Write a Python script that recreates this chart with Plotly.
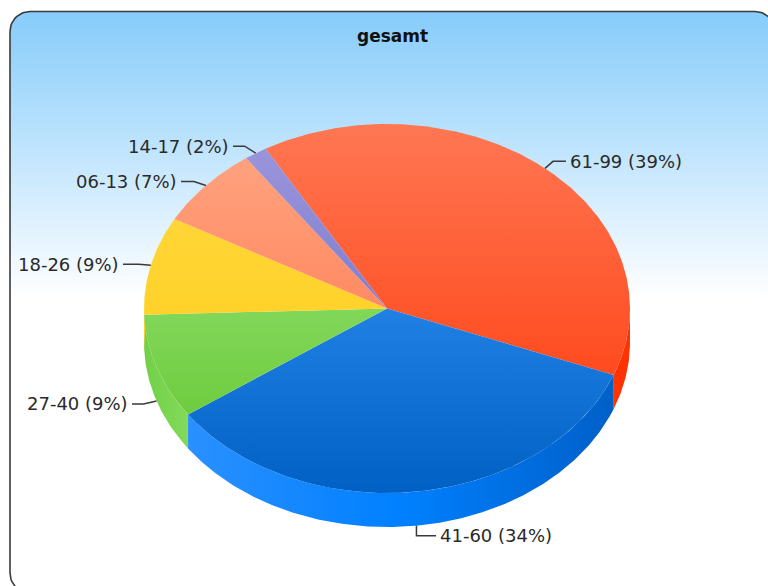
import numpy as np
import plotly.graph_objects as go

# ---- data (clockwise from the first slice) ----
labels = ["61-99 (39%)", "41-60 (34%)", "27-40 (9%)", "18-26 (9%)", "06-13 (7%)", "14-17 (2%)"]
shares = [39.2, 34.4, 9.2, 8.6, 7.1, 1.5]
title_text = "gesamt"

# ---- styling ----
top_colors = [("#FF7753", "#FF4B1F"), ("#2080E4", "#0060C4"), ("#82D75A", "#6ECC3E"),
              ("#FFD637", "#FFD22A"), ("#FFA27F", "#FF8A62"), ("#9A94DA", "#7F7FD0")]
rim_colors = [("#FF3300", "#FF3300"), ("#2A90FF", "#0060C8"), ("#72D046", "#82DA5C"),
              ("#FFD22B", "#FFD22B"), ("#FF8A62", "#FF8A62"), ("#7F7FD0", "#7F7FD0")]
# leader elbow offset from slice edge, horizontal run end, text anchor
leader_style = [((8, -7), 566, "left"), ((0, 10), 436, "left"), ((-13, 3), 132, "right"),
                ((-12, -1), 123, "right"), ((-12, -4), 181, "right"), ((-11, -7), 233, "right")]
rim_overlap_top = {3: 4.0}   # the yellow side wall shows a little past the slice edge
CX, CY, RX, RY, DEPTH = 387.0, 308.5, 243.0, 184.5, 34.0
START = -30.0
FONT = "DejaVu Sans"


def ell(a, dy=0.0):
    t = np.radians(a)
    return CX + RX * np.sin(t), CY - RY * np.cos(t) + dy


def arc(a0, a1, dy=0.0):
    a = np.linspace(a0, a1, max(int(abs(a1 - a0) * 2), 2))
    return ell(a, dy)


def grad(c0, c1, lo, hi, kind):
    return dict(type=kind, colorscale=[[0, c0], [1, c1]], start=lo, stop=hi)


fig = go.Figure()

# panel with rounded corners
L, T, R, B, r = 10.0, 11.5, 775.0, 593.0, 20.0
corner = np.linspace(0, 90, 16)
px, py = [], []
for (cx, cy, off) in [(L + r, T + r, 270), (R - r, T + r, 0), (R - r, B - r, 90), (L + r, B - r, 180)]:
    t = np.radians(corner + off)
    px += list(cx + r * np.sin(t))
    py += list(cy - r * np.cos(t))
px.append(px[0])
py.append(py[0])
fig.add_trace(go.Scatter(
    x=px, y=py, mode="lines", fill="toself", hoverinfo="skip",
    line=dict(color="#3A3A3A", width=1.6),
    fillgradient=dict(type="vertical",
                      colorscale=[[0, "#86CCFB"], [0.5, "#FFFFFF"], [1, "#FFFFFF"]],
                      start=T, stop=T + 2 * 288)))

# slice angles
edges = START + 360.0 * np.concatenate([[0], np.cumsum(shares)]) / float(sum(shares))

# rim
for i in range(len(shares)):
    a0, a1 = max(edges[i], 90.0), min(edges[i + 1], 270.0)
    if a1 <= a0:
        continue
    x1, y1 = arc(a0 - rim_overlap_top.get(i, 0.0), a1)
    x2, y2 = arc(a1, a0, DEPTH)
    xs = np.concatenate([x1, x2, x1[:1]])
    ys = np.concatenate([y1, y2, y1[:1]])
    c0, c1 = rim_colors[i]
    if i == 1:
        scale = [[0, c0], [0.5, "#0080FF"], [1, c1]]
        gr = dict(type="horizontal", colorscale=scale, start=xs.min(), stop=xs.max())
    else:
        gr = grad(c0, c1, xs.min(), xs.max(), "horizontal")
    fig.add_trace(go.Scatter(x=xs, y=ys, mode="lines", fill="toself", hoverinfo="skip",
                             line=dict(width=0), fillgradient=gr))

# top faces
for i in range(len(shares)):
    x1, y1 = arc(edges[i], edges[i + 1])
    xs = np.concatenate([[CX], x1, [CX]])
    ys = np.concatenate([[CY], y1, [CY]])
    c0, c1 = top_colors[i]
    fig.add_trace(go.Scatter(x=xs, y=ys, mode="lines", fill="toself", hoverinfo="skip",
                             line=dict(width=0),
                             fillgradient=grad(c0, c1, ys.min(), ys.max(), "vertical")))

# leaders and labels
ann = []
for i, lab in enumerate(labels):
    mid = (edges[i] + edges[i + 1]) / 2
    (ox, oy), xe, anchor = leader_style[i]
    x0, y0 = ell(mid, DEPTH if 150 < mid < 260 else 0.0)
    fig.add_trace(go.Scatter(x=[x0, x0 + ox, xe], y=[y0, y0 + oy, y0 + oy], mode="lines",
                             hoverinfo="skip", line=dict(color="#3A3A3A", width=1.5)))
    ann.append(dict(x=xe + (2 if anchor == "left" else -2), y=y0 + oy, text=lab, showarrow=False,
                    xanchor=anchor, yanchor="middle", xref="x", yref="y",
                    font=dict(family=FONT, size=18, color="#2A2A2A")))

ann.append(dict(x=392, y=35.5, text=f"<b>{title_text}</b>", showarrow=False, xanchor="center",
                yanchor="middle", xref="x", yref="y", font=dict(family=FONT, size=17, color="#111111")))

fig.update_layout(
    width=768, height=586, margin=dict(l=0, r=0, t=0, b=0), showlegend=False,
    paper_bgcolor="white", plot_bgcolor="white", annotations=ann,
    xaxis=dict(visible=False, range=[0, 768], fixedrange=True),
    yaxis=dict(visible=False, range=[586, 0], fixedrange=True),
)
fig.write_html("out.html", config={"displayModeBar": False},
               post_script="document.body.style.margin='0';document.documentElement.style.overflow='hidden';")
